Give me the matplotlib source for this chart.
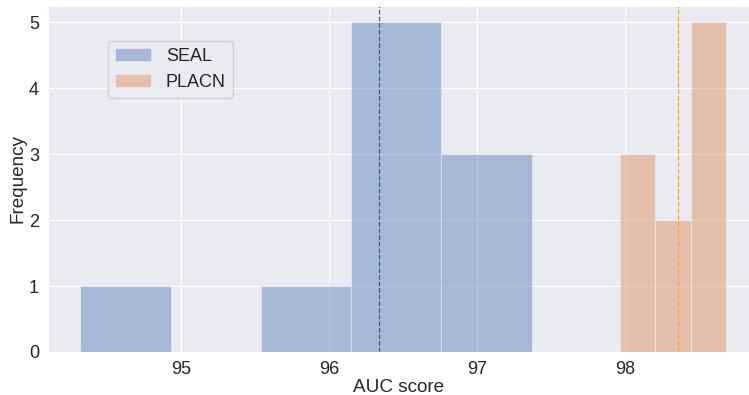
import numpy as np
import matplotlib
matplotlib.use("Agg")
import matplotlib.pyplot as plt
import seaborn as sns

sns.set_style("darkgrid")
plt.rcParams['font.family'] = ['Liberation Sans', 'DejaVu Sans']

# histogram bins and counts
seal_edges = [94.32, 94.93, 95.54, 96.15, 96.76, 97.37]
seal_counts = [1, 0, 1, 5, 3]
placn_edges = [97.965, 98.205, 98.445, 98.685]
placn_counts = [3, 2, 5]

# mean AUC of each method
seal_mean = 96.34
placn_mean = 98.36

fig = plt.figure(figsize=(7.49, 3.95), dpi=100)
ax = fig.add_axes([0.064, 0.109, 0.936, 0.876])

blue = sns.color_palette("deep")[0]
orange = sns.color_palette("deep")[1]

ax.hist(seal_edges[:-1], bins=seal_edges, weights=seal_counts,
        color=blue, alpha=0.42, edgecolor='white', linewidth=0.6, label='SEAL')
ax.hist(placn_edges[:-1], bins=placn_edges, weights=placn_counts,
        color=orange, alpha=0.42, edgecolor='white', linewidth=0.6, label='PLACN')

ax.axvline(seal_mean, color='#3d5a98', linestyle='--', linewidth=0.9)
ax.axvline(placn_mean, color='orange', linestyle='--', linewidth=0.9)

ax.set_xlim(94.1, 98.84)
ax.set_ylim(0, 5.25)
ax.set_xticks([95, 96, 97, 98])
ax.tick_params(labelsize=13, pad=3)
ax.set_xlabel("AUC score", fontsize=13.6, labelpad=0.5)
ax.set_ylabel("Frequency", fontsize=13.6, labelpad=2)

ax.legend(loc='upper left', bbox_to_anchor=(0.0856, 0.899), borderaxespad=0,
          fontsize=13)

fig.savefig("out.png", dpi=100)
